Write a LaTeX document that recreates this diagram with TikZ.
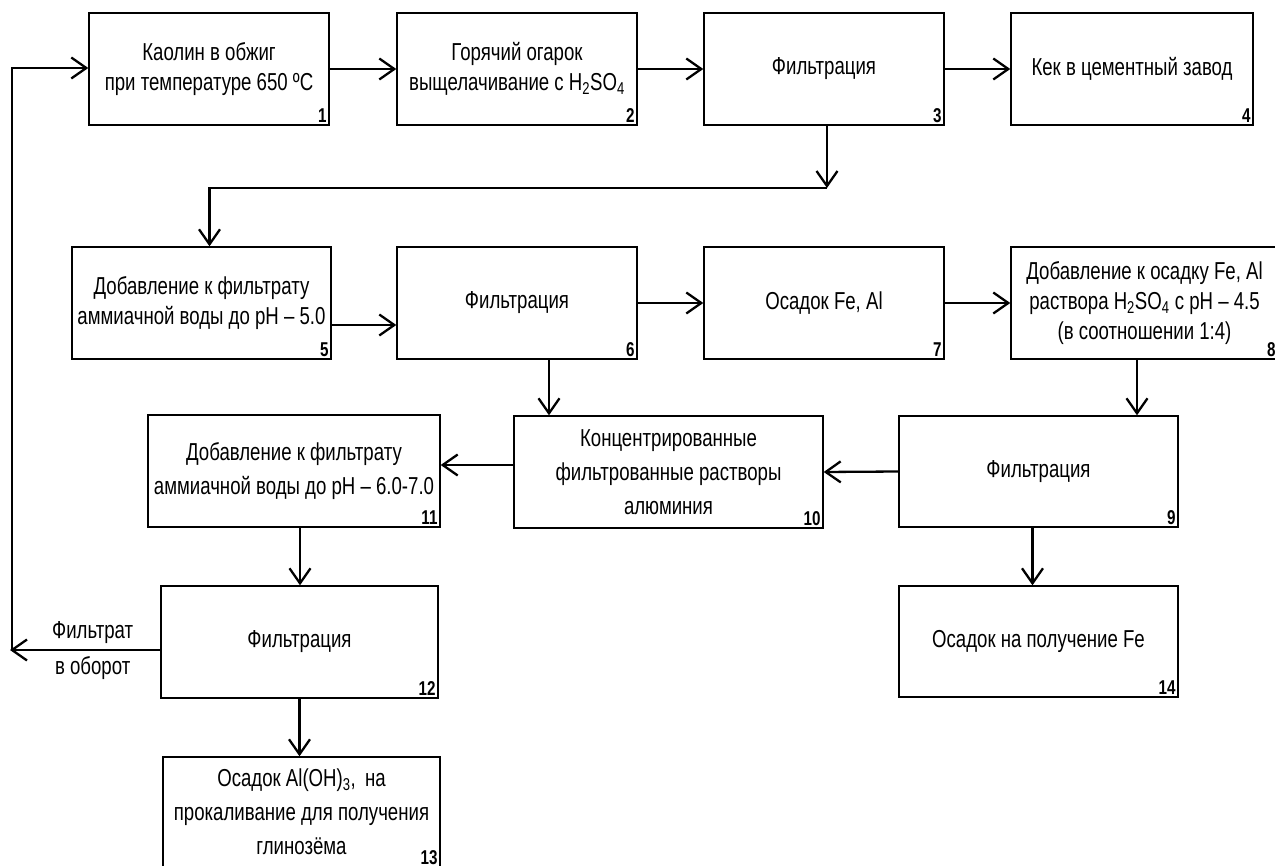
\documentclass[tikz,border=0pt]{standalone}
\usepackage{fontspec}
\setmainfont{Liberation Sans}[FakeStretch=0.76]
\usetikzlibrary{arrows.meta, positioning}

\begin{document}
\begin{tikzpicture}[
    x=1pt, y=-1pt,
    >={Straight Barb[length=15pt,width=21pt]},
    every node/.style={font=\fontsize{24.5}{30}\selectfont},
    blk/.style={draw, line width=1.4pt, align=center, inner sep=2pt},
    wide/.style={font=\fontsize{24.5}{34}\selectfont},
    numlbl/.style={anchor=south east, inner sep=3pt, font=\fontsize{20}{20}\selectfont\bfseries},
    flow/.style={->, line width=2.3pt},
]
\clip (0,0) rectangle (1275,866);
% first row: roasting, leaching, filtration, cake
\node[blk, minimum width=240pt, minimum height=112pt, label={[numlbl]south east:1}] (kaolin) at (209,69) {Каолин в обжиг\\при температуре 650 ºС};
\node[blk, minimum width=240pt, minimum height=112pt, label={[numlbl]south east:2}] (leach) at (517,69) {Горячий огарок\\выщелачивание с H\textsubscript{2}SO\textsubscript{4}};
\node[blk, minimum width=240pt, minimum height=112pt, label={[numlbl]south east:3}] (filtA) at (824,69) {Фильтрация};
\node[blk, minimum width=242pt, minimum height=112pt, label={[numlbl]south east:4}] (cake) at (1132,69) {Кек в цементный завод};
% second row
\node[blk, minimum width=259pt, minimum height=112pt, label={[numlbl]south east:5}] (addA) at (201.5,303) {Добавление к фильтрату\\аммиачной воды до pH -- 5.0};
\node[blk, minimum width=240pt, minimum height=112pt, label={[numlbl]south east:6}] (filtB) at (517,303) {Фильтрация};
\node[blk, minimum width=240pt, minimum height=112pt, label={[numlbl]south east:7}] (sedFeAl) at (824,303) {Осадок Fe, Al};
\node[blk, minimum width=267pt, minimum height=112pt, label={[numlbl]south east:8}] (addAcid) at (1144.5,303) {Добавление к осадку Fe, Al\\раствора H\textsubscript{2}SO\textsubscript{4} с pH -- 4.5\\(в соотношении 1:4)};
% third row
\node[blk, wide, minimum width=292pt, minimum height=112pt, label={[numlbl]south east:11}] (addB) at (294,471) {Добавление к фильтрату\\аммиачной воды до pH -- 6.0-7.0};
\node[blk, wide, minimum width=309pt, minimum height=112pt, label={[numlbl]south east:10}] (conc) at (668.5,472) {Концентрированные\\фильтрованные растворы\\алюминия};
\node[blk, minimum width=279pt, minimum height=111pt, label={[numlbl]south east:9}] (filtC) at (1038.5,471.5) {Фильтрация};
% bottom
\node[blk, minimum width=277pt, minimum height=112pt, label={[numlbl]south east:12}] (filtD) at (299.5,642) {Фильтрация};
\node[blk, minimum width=279pt, minimum height=111pt, label={[numlbl]south east:14}] (sedFe) at (1038.5,641.5) {Осадок на получение Fe};
\node[blk, wide, minimum width=277pt, minimum height=110pt, label={[numlbl]south east:13}] (alOH) at (301.5,812) {Осадок Al(OH)\textsubscript{3}, \,на\\прокаливание для получения\\глинозёма};

% connectors
\coordinate (turn) at (827,188);
\coordinate (ret) at (10,650);
\coordinate (up) at (12,650);
\draw[flow] (filtA.south -| turn) -- (turn);
\draw[flow] (kaolin.east) -- (leach.west);
\draw[flow] (leach.east) -- (filtA.west);
\draw[flow] (filtA.east) -- (cake.west);
\draw[flow] (turn) -| ([xshift=8pt]addA.north);
\draw[flow] ([yshift=-22pt]addA.east) -- ([yshift=-22pt]addA.east -| filtB.west);
\draw[flow] (filtB.east) -- (sedFeAl.west);
\draw[flow] (sedFeAl.east) -- (addAcid.west);
\draw[flow] ([xshift=32pt]filtB.south) -- ([xshift=32pt]filtB.south |- conc.north);
\draw[flow] ([xshift=-7.5pt]addAcid.south) -- ([xshift=-7.5pt]addAcid.south |- filtC.north);
\draw[flow] (filtC.west) -- (conc.east);
\draw[flow] ([yshift=7pt]conc.west) -- ([yshift=7pt]conc.west -| addB.east);
\draw[flow] ([xshift=6pt]addB.south) -- ([xshift=6pt]addB.south |- filtD.north);
\draw[flow] (filtD.south) -- (filtD.south |- alOH.north);
\draw[flow] ([xshift=-6pt]filtC.south) -- ([xshift=-6pt]filtC.south |- sedFe.north);
% filtrate back to the start
\draw[flow] ([yshift=-8pt]filtD.west) -- (ret)
    node[pos=0.45, above, inner sep=5pt] (retA) {Фильтрат}
    node[pos=0.45, below, inner sep=5pt] (retB) {в оборот};
\draw[flow] (up) |- ([yshift=1pt]kaolin.west);
\end{tikzpicture}
\end{document}
